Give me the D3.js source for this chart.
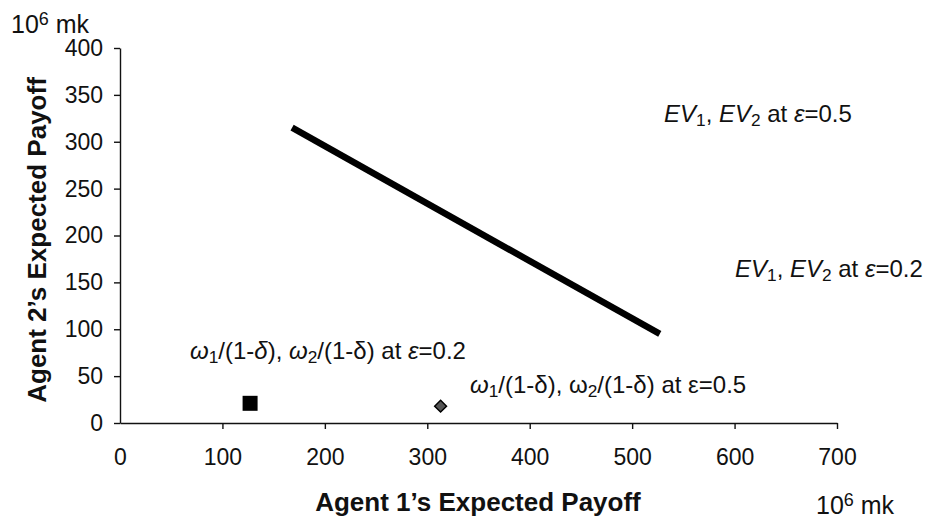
<!DOCTYPE html>
<html><head><meta charset="utf-8">
<script src="https://cdn.jsdelivr.net/npm/d3@7"></script>
<style>body{margin:0;background:#fff}svg{font-family:"Liberation Sans",Arial,sans-serif}</style>
</head><body><svg id="c" width="931" height="524"></svg>
<script>
const xTicks = [0,100,200,300,400,500,600,700];
const yTicks = [0,50,100,150,200,250,300,350,400];
const lineX = [168, 527];
const lineY = [315, 95];
const squareX = [127], squareY = [21];
const diamondX = [313], diamondY = [18];

const svg = d3.select("#c");
const x = d3.scaleLinear().domain([0,700]).range([120,837]);
const y = d3.scaleLinear().domain([0,400]).range([423,48]);

const ga = svg.append("g").attr("transform","translate(0,"+y(0)+")")
  .call(d3.axisBottom(x).tickValues(xTicks).tickSize(6).tickSizeOuter(0).tickPadding(20));
ga.selectAll("text").attr("font-size",23).attr("fill","#111");
ga.selectAll("line,path").attr("stroke","#111").attr("stroke-width",1.4);
ga.selectAll(".tick").filter(d=>d===0).select("line").remove();

const gy = svg.append("g").attr("transform","translate("+x(0)+",0)")
  .call(d3.axisLeft(y).tickValues(yTicks).tickSize(6).tickSizeOuter(0).tickPadding(11));
gy.selectAll("text").attr("font-size",23).attr("fill","#111");
gy.selectAll("line,path").attr("stroke","#111").attr("stroke-width",1.4);

const pts = lineX.map((v,i)=>[v,lineY[i]]);
svg.append("path").datum(pts)
  .attr("d", d3.line().x(d=>x(d[0])).y(d=>y(d[1])))
  .attr("stroke","#000").attr("stroke-width",6.5).attr("fill","none");

svg.selectAll("rect.sq").data(squareX).enter().append("rect").attr("class","sq")
  .attr("x",(d)=>x(d)-7.5).attr("y",(d,i)=>y(squareY[i])-7.5).attr("width",15).attr("height",15).attr("fill","#000");

svg.selectAll("path.dm").data(diamondX).enter().append("path").attr("class","dm")
  .attr("transform",(d,i)=>"translate("+x(d)+","+y(diamondY[i])+") rotate(45)")
  .attr("d", d3.symbol().type(d3.symbolSquare).size(70))
  .attr("fill","#555").attr("stroke","#000").attr("stroke-width",1.5);

function label(px,py,parts,opts={}){
  const size = opts.size||24;
  const t = svg.append("text").attr("x",px).attr("y",py).attr("font-size",size).attr("fill","#111");
  if(opts.bold) t.attr("font-weight","bold");
  if(opts.rotate) t.attr("transform","rotate(-90,"+px+","+py+")").attr("text-anchor","middle");
  if(opts.anchor) t.attr("text-anchor",opts.anchor);
  parts.forEach(p=>{
    const s = t.append("tspan").text(p.t);
    if(p.i) s.attr("font-style","italic");
    if(p.sub) s.attr("baseline-shift","-25%").attr("font-size",size*0.72);
    if(p.sup) s.attr("baseline-shift","45%").attr("font-size",size*0.72);
  });
  return t;
}
label(11,33,[{t:"10"},{t:"6",sup:1},{t:" mk"}],{size:25});
label(816,514,[{t:"10"},{t:"6",sup:1},{t:" mk"}],{size:25});
label(478,511,[{t:"Agent 1’s Expected Payoff"}],{bold:1,size:26,anchor:"middle"});
label(46,240,[{t:"Agent 2’s Expected Payoff"}],{bold:1,size:26,rotate:1});

label(664,122,[{t:"EV",i:1},{t:"1",sub:1},{t:", "},{t:"EV",i:1},{t:"2",sub:1},{t:" at "},{t:"ε",i:1},{t:"=0.5"}]);
label(735,277,[{t:"EV",i:1},{t:"1",sub:1},{t:", "},{t:"EV",i:1},{t:"2",sub:1},{t:" at "},{t:"ε",i:1},{t:"=0.2"}]);
label(190,359,[{t:"ω",i:1},{t:"1",sub:1},{t:"/(1-"},{t:"δ",i:1},{t:"), "},{t:"ω",i:1},{t:"2",sub:1},{t:"/(1-δ) at "},{t:"ε",i:1},{t:"=0.2"}]);
label(470,393,[{t:"ω",i:1},{t:"1",sub:1},{t:"/(1-δ), ω"},{t:"2",sub:1},{t:"/(1-δ) at ε=0.5"}]);
</script></body></html>
